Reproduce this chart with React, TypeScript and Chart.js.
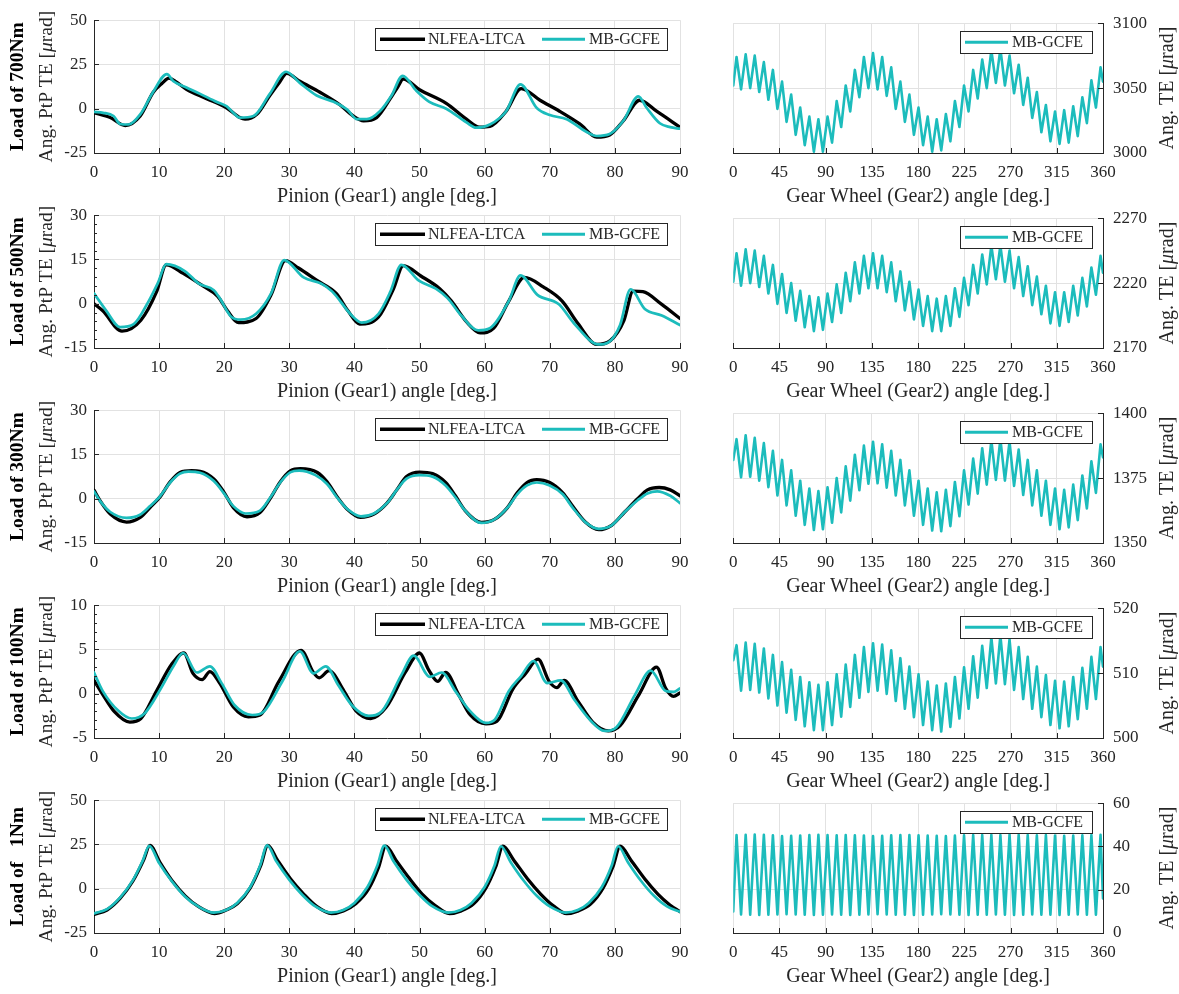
import React, { useEffect, useRef } from "react";
import { Chart, registerables } from "chart.js";

Chart.register(...registerables);

const SERIF = "'Liberation Serif', 'Times New Roman', Times, serif";
const INK = "#262626";
const GRID = "#e2e2e2";
const CYAN = "#1cbcbc";
const BLACK = "#000000";

Chart.defaults.font.family = SERIF;

// ---------- layout-free descriptive data ----------
const LOAD_LABELS = ["Load of 700Nm", "Load of 500Nm", "Load of 300Nm", "Load of 100Nm", "Load of   1Nm"];
const PINION_TITLE = "Pinion (Gear1) angle [deg.]";
const GEAR_TITLE = "Gear Wheel (Gear2) angle [deg.]";
const SERIES_NAMES = ["NLFEA-LTCA", "MB-GCFE"];

const LEFT_Y_MIN = [-25, -15, -15, -5, -25];
const LEFT_Y_MAX = [50, 30, 30, 10, 50];
const LEFT_Y_STEP = [25, 15, 15, 5, 25];
const LEFT_Y_MINOR = [0, 3, 0, 1, 0];
const RIGHT_Y_MIN = [3000, 2170, 1350, 500, 0];
const RIGHT_Y_MAX = [3100, 2270, 1400, 520, 60];
const RIGHT_Y_STEP = [50, 50, 25, 10, 20];
const PINION_RANGE = [0, 90, 10];
const GEAR_RANGE = [0, 360, 45];

// ---------- Pinion-angle series (left column) ----------
const NL700_X = [0, 2.5, 4.8, 7.1, 9.1, 10.5, 11.5, 12.5, 14.2, 17.3, 20.4, 22.4, 23.2, 25, 27, 28.5, 29.6, 31.6, 34.7, 37.8, 39.8, 41.4, 43.4, 45.5, 46.6, 47.5, 50, 54.1, 57.2, 59.2, 60.8, 63.3, 65.6, 68.5, 71.5, 74.6, 77.2, 79.2, 81.3, 83.8, 86.4, 90];
const NL700_Y = [-2.3, -5, -9.5, -4.1, 9.3, 14.5, 17.3, 15.5, 11, 5.7, 0.4, -5, -5.9, -3.2, 7.5, 15, 20, 15.5, 9.3, 2.1, -4.1, -6.8, -5, 5.7, 12, 16.8, 10.7, 3, -5.9, -10.4, -10, -1.4, 11.4, 4.8, -1.4, -8.6, -16, -14.8, -6.8, 4.8, -1.4, -10.4];
const MB700_X = [0, 1.4, 3, 4, 5.3, 7.1, 9.1, 11.2, 12.2, 14.2, 16.3, 18.8, 20.4, 21.4, 22.4, 24.5, 27, 29.5, 31.6, 34.2, 36.8, 38.9, 40.4, 41.9, 43.9, 45.7, 47.4, 49.5, 51.5, 54.1, 57.2, 58.7, 60.8, 63.3, 65.5, 68, 70, 72.6, 75.6, 77.2, 79.2, 81.3, 83.6, 84.9, 86.9, 88.5, 90];
const MB700_Y = [-1.8, -2.3, -4.1, -8.6, -8.9, -3.2, 9.6, 19.6, 15.5, 12, 8.4, 3.9, 1.3, -2.3, -5, -4.1, 8.4, 20.9, 14.6, 7.5, 3.9, -0.5, -5.9, -5.9, -1.4, 7.5, 18.6, 10.2, 3.9, 0, -7.7, -10.7, -8.9, -1.4, 13.8, 0.4, -3.6, -5.9, -13, -15.4, -14.3, -6.8, 7, 0.4, -8.2, -10.4, -11.3];

const NL500_X = [0, 1.35, 4.3, 7.2, 9.6, 11.1, 13.7, 16.6, 19, 20.5, 22.2, 24.9, 27.2, 29.4, 31.4, 34.3, 37.2, 39, 40.8, 43.7, 46, 47.5, 50.2, 53.1, 54.9, 57.2, 59.3, 61.4, 63.7, 66.1, 69, 71.9, 74.3, 77.2, 79.3, 81.4, 82.8, 84.3, 87.2, 90];
const NL500_Y = [0, -2.4, -9.3, -5.6, 4, 13.2, 10.3, 6.2, 2.5, -2.4, -6.4, -5, 3, 14.6, 12.1, 7.8, 3.5, -2.4, -6.9, -4.5, 5.1, 12.9, 9.4, 5.1, 0.9, -6.1, -9.9, -8.3, 0.9, 8.9, 5.7, 0.9, -6.6, -13.8, -12.5, -5.6, 4.3, 4.1, -0.2, -5];
const MB500_X = [0, 1.9, 4, 6.1, 8.4, 9.8, 11.1, 14, 16.1, 18.4, 19.3, 21.1, 22.5, 24.9, 27.2, 29.2, 32.2, 34.9, 36.6, 39.6, 41.1, 43.7, 45.5, 47.2, 49.9, 52.5, 54.3, 56.4, 59, 60.8, 63.7, 65.5, 68.1, 71.4, 73.7, 77.5, 79, 80.8, 82.4, 84.6, 87.2, 90];
const MB500_Y = [3.5, -2.4, -7.9, -6.9, 0.9, 7, 13.4, 11, 6.8, 4.6, 1.9, -4.5, -5.4, -3.4, 3.5, 14.8, 8.9, 6.8, 4.1, -4, -6.4, -3.4, 4, 13.2, 7.8, 5.1, 1.9, -4, -9, -8.3, 0.9, 9.6, 3, -0.2, -6.6, -13.8, -13.1, -7.2, 4.9, -1.8, -4, -7.2];

const NL300_X = [0, 1, 2.5, 5, 7.1, 8.6, 10.2, 11.7, 13.2, 15, 16.3, 18.4, 19.9, 21.4, 23.5, 25.5, 27.1, 28.6, 30.2, 31.7, 34.3, 35.8, 37.3, 38.9, 40.9, 43, 45, 46.5, 48, 50, 52, 54, 55.5, 57, 59.5, 61.5, 63.5, 65, 66.5, 68, 70, 72, 73.5, 75.5, 77.5, 79.5, 81.5, 83.5, 85, 86.8, 88.5, 90];
const NL300_Y = [2.9, -0.9, -5.2, -7.9, -6.3, -3, 0.8, 5.7, 8.9, 9.5, 9.3, 6.7, 2.4, -3, -6.1, -4.7, 0.2, 5.7, 9.5, 10.2, 8.9, 5.7, 0.8, -3.6, -6.3, -5.2, -1.5, 3, 7.5, 9, 8.5, 5.5, 1, -4, -8, -7, -3, 2, 5.5, 6.5, 5.5, 2, -2.5, -8, -10.5, -9, -4.5, 0, 3, 3.8, 3, 1];
const MB300_X = [0, 1, 2.5, 5, 7, 8.6, 10.2, 11.7, 13.2, 14.5, 16.3, 18.4, 19.9, 21.4, 23.3, 25.5, 27.1, 28.6, 30.2, 31.5, 34, 35.8, 37.3, 38.9, 41, 43, 45, 46.5, 48, 50, 52, 54, 55.5, 57, 59.5, 61.5, 63.5, 65, 66.5, 68, 70, 72, 73.5, 75.5, 77.5, 79.5, 81.5, 83.5, 85, 86.5, 88.5, 90];
const MB300_Y = [2.5, -1, -4.5, -6.5, -5.5, -2.5, 1, 5.5, 8.5, 9.2, 8.8, 6, 2, -2.5, -5, -4, 0.5, 5.5, 9, 9.5, 8, 5, 0.5, -3.5, -6, -5, -1.5, 3, 6.8, 8, 7.5, 4.5, 0.5, -4, -8.2, -7, -3, 1.5, 4.5, 5.5, 4.5, 1.5, -3, -8, -10.2, -9, -4.5, -0.5, 1.8, 2.5, 1, -1.5];

const NL100_X = [0, 1.35, 3.1, 5.5, 7.2, 9.6, 11.9, 13.8, 15.2, 16.6, 17.8, 19.3, 21.4, 23.7, 25.5, 28.4, 31.8, 33.7, 34.6, 36.1, 38.4, 40.2, 42.5, 44.9, 47.8, 50, 51.4, 52.8, 54, 56, 57.8, 60.2, 61.9, 64.3, 66.3, 68.2, 69.9, 71.1, 72.2, 74.3, 76.6, 79, 80.8, 83.7, 86.4, 87.8, 89, 90];
const NL100_Y = [1.5, -0.1, -2, -3.2, -2.8, 0.3, 3.3, 4.6, 2.3, 1.6, 2.5, 1.2, -1.5, -2.6, -2.4, 1.4, 4.9, 2.4, 1.8, 2.6, 0.3, -1.9, -2.8, -1.5, 2.4, 4.6, 2.7, 1.4, 2.4, -0.1, -2.4, -3.4, -3.1, 0.5, 2.3, 3.9, 1.4, 0.7, 1.5, -0.8, -3.2, -4.2, -3.6, -0.1, 3, 0.6, -0.3, 0.1];
const MB100_X = [0, 1.35, 3.7, 5.8, 7.8, 10.2, 12.2, 13.7, 15.8, 17.8, 19.6, 21.6, 24.3, 26.1, 29, 31.6, 33.7, 35.6, 37.5, 39.6, 42.2, 44.3, 47.2, 49.1, 51.6, 53.4, 55.5, 57.8, 60.2, 61.6, 63.7, 65.6, 67.5, 69.6, 71.7, 73.7, 76.1, 78.4, 80.2, 83.1, 85.5, 87.8, 89, 90];
const MB100_Y = [2.4, 0.3, -1.9, -2.8, -2.2, 0.5, 3.1, 4.6, 2.4, 3.1, 1.2, -1.3, -2.4, -2, 1.5, 4.8, 2.3, 3.1, 1, -1.3, -2.5, -1.9, 2.1, 4.3, 1.9, 2.4, 0.3, -2, -3.3, -2.9, 0.3, 2, 3.7, 1.2, 1.5, -0.6, -2.9, -4.2, -3.8, -0.1, 2.6, 0.3, 0.2, 0.6];

const NL1_X = [0, 2, 4, 6, 7.6, 8.6, 10.1, 12, 14, 16, 18.5, 20.3, 22, 24, 25.6, 26.7, 28.2, 30.2, 32.2, 34.2, 36.5, 38.3, 40.2, 42.2, 43.7, 44.8, 46.4, 48.4, 50.4, 52.4, 54.6, 56.4, 58.3, 60.2, 61.7, 62.8, 64.5, 66.6, 68.6, 70.5, 72.6, 74.4, 76.3, 78.2, 79.7, 80.8, 82.5, 84.6, 86.6, 88.4, 90];
const NL1_Y = [-14.5, -12, -5.5, 4.5, 16, 24.5, 15, 4.5, -4, -10, -14, -12, -8.5, 0.5, 13, 24.5, 16, 5.5, -3, -10, -14, -12.5, -8.5, 0, 12, 24, 16, 6, -3, -9.5, -14, -12.5, -8.5, 0.5, 12.5, 24, 16, 5.5, -3, -9.5, -14, -12.5, -8.5, 0.5, 12.5, 24, 16, 5.5, -3, -9, -13];
const MB1_X = [0, 2, 4, 6, 7.5, 8.5, 10, 12, 14, 16, 18.4, 20.3, 22, 24, 25.5, 26.6, 28, 30, 32, 34, 36.4, 38.3, 40, 42, 43.5, 44.6, 46, 48, 50, 52, 54.4, 56.3, 58, 60, 61.5, 62.5, 64, 66, 68, 70, 72.4, 74.3, 76, 78, 79.5, 80.5, 82, 84, 86, 88, 90];
const MB1_Y = [-14, -11.5, -5, 5, 16, 24.2, 14.5, 4, -4.5, -10, -13.5, -12, -8, 1, 13, 24.5, 15.5, 5, -3.5, -10, -13.5, -12, -8, 1, 13, 24.3, 15.5, 5, -3.5, -10, -13.5, -12, -8, 1, 13, 24, 15, 4.5, -4, -10, -13.5, -12, -8, 1, 13, 24, 15, 4.5, -4, -10, -13];

// ---------- Gear-angle series (right column): mesh peaks / valleys ----------
const GEAR_PEAK_X = [3.2, 12.1, 20.9, 29.8, 38.6, 47.5, 56.4, 65.2, 74.1, 82.9, 91.8, 100.7, 109.5, 118.4, 127.2, 136.1, 145.0, 153.8, 162.7, 171.5, 180.4, 189.3, 198.1, 207.0, 215.8, 224.7, 233.6, 242.4, 251.3, 260.1, 269.0, 277.9, 286.7, 295.6, 304.4, 313.3, 322.2, 331.0, 339.9, 348.7, 357.6];
const GEAR_VALLEY_X = [7.6, 16.5, 25.3, 34.2, 43.0, 51.9, 60.8, 69.6, 78.5, 87.3, 96.2, 105.1, 113.9, 122.8, 131.6, 140.5, 149.4, 158.2, 167.1, 175.9, 184.8, 193.7, 202.5, 211.4, 220.2, 229.1, 238.0, 246.8, 255.7, 264.5, 273.4, 282.3, 291.1, 300.0, 308.8, 317.7, 326.6, 335.4, 344.3, 353.1];

const G700_PEAK = [3074, 3076, 3075, 3070, 3064, 3055, 3045, 3035, 3028, 3026, 3028, 3040, 3052, 3064, 3074, 3077, 3074, 3066, 3055, 3045, 3035, 3028, 3026, 3030, 3040, 3052, 3064, 3072, 3079, 3080, 3075, 3068, 3058, 3047, 3037, 3032, 3033, 3036, 3043, 3056, 3066];
const G700_VALLEY = [3049, 3050, 3047, 3041, 3034, 3024, 3014, 3006, 3001, 3001, 3008, 3020, 3032, 3043, 3050, 3049, 3044, 3034, 3024, 3014, 3006, 3001, 3002, 3009, 3020, 3032, 3042, 3050, 3054, 3052, 3046, 3037, 3027, 3016, 3009, 3007, 3008, 3013, 3023, 3035];
const G700_ENDS = [3052, 3055];

const G500_PEAK = [2243, 2246, 2245, 2241, 2234, 2227, 2220, 2214, 2210, 2209, 2212, 2219, 2228, 2236, 2241, 2243, 2241, 2236, 2229, 2221, 2215, 2210, 2208, 2210, 2216, 2224, 2234, 2242, 2249, 2249, 2245, 2240, 2233, 2225, 2218, 2213, 2213, 2218, 2224, 2232, 2241];
const G500_VALLEY = [2218, 2220, 2217, 2212, 2204, 2197, 2191, 2186, 2183, 2184, 2190, 2197, 2206, 2212, 2216, 2216, 2213, 2206, 2199, 2192, 2187, 2183, 2183, 2187, 2194, 2203, 2212, 2219, 2223, 2221, 2216, 2210, 2203, 2196, 2189, 2187, 2190, 2195, 2202, 2211];
const G500_ENDS = [2221, 2228];

const G300_PEAK = [1390, 1391.5, 1390.5, 1388.5, 1385.5, 1382, 1378, 1374, 1371, 1370, 1371.5, 1375, 1379.5, 1384, 1387.5, 1389, 1388, 1385.5, 1382, 1378, 1374, 1371, 1369.5, 1370.5, 1373.5, 1378, 1382.5, 1386.5, 1389.5, 1390, 1389, 1386, 1382, 1378, 1374, 1371, 1370.5, 1372.5, 1376, 1381.5, 1388];
const G300_VALLEY = [1375.3, 1375.5, 1374, 1371.5, 1368.3, 1364.5, 1360.5, 1357, 1355, 1355.3, 1357.8, 1361.8, 1366.3, 1370.3, 1372.8, 1373, 1371.3, 1368.3, 1364.5, 1360.5, 1357, 1354.8, 1354.5, 1356.5, 1360.3, 1364.8, 1369, 1372.5, 1374.3, 1374, 1372, 1368.5, 1364.5, 1360.5, 1357, 1355.3, 1356, 1358.8, 1363.3, 1369.3];
const G300_ENDS = [1382, 1383];

const G100_PEAK = [514.3, 514.7, 514.5, 513.8, 512.8, 511.7, 510.5, 509.4, 508.6, 508.2, 508.6, 509.8, 511.3, 512.8, 514, 514.6, 514.4, 513.5, 512.3, 511, 509.8, 508.7, 508.1, 508.4, 509.4, 510.9, 512.6, 514.2, 515.5, 515.8, 515.2, 514, 512.5, 511, 509.7, 508.8, 508.7, 509.4, 510.8, 512.5, 514];
const G100_VALLEY = [507.3, 507.4, 507, 506.1, 505, 503.9, 502.8, 501.8, 501.2, 501.2, 502, 503.3, 504.8, 506.2, 507.1, 507.3, 506.8, 505.7, 504.5, 503.2, 502, 501.2, 501, 501.7, 503, 504.5, 506.2, 507.7, 508.4, 508.3, 507.4, 506, 504.5, 503.2, 502, 501.5, 501.8, 502.9, 504.5, 506];
const G100_ENDS = [512, 511];

const G1_PEAK = [45.3, 45.4, 45.5, 45.4, 45.2, 44.8, 44.9, 45.1, 45.3, 45.4, 45.3, 45.2, 45.3, 45.2, 45.1, 44.8, 44.9, 45.2, 45.3, 45.3, 45.2, 45.0, 44.9, 44.8, 45.0, 45.2, 45.3, 45.3, 45.4, 45.3, 45.5, 45.4, 45.3, 45.2, 45.3, 45.1, 44.9, 45.0, 45.2, 45.3, 45.4];
const G1_VALLEY = [8.6, 8.5, 8.4, 8.5, 8.6, 8.7, 8.6, 8.5, 8.4, 8.5, 8.6, 8.5, 8.4, 8.5, 8.6, 8.7, 8.6, 8.5, 8.5, 8.4, 8.5, 8.6, 8.7, 8.6, 8.5, 8.4, 8.5, 8.5, 8.6, 8.5, 8.4, 8.5, 8.6, 8.5, 8.5, 8.4, 8.5, 8.6, 8.5, 8.5];
const G1_ENDS = [10, 16];

// ---------- tables built from the named arrays ----------
const NL_X = [NL700_X, NL500_X, NL300_X, NL100_X, NL1_X];
const NL_Y = [NL700_Y, NL500_Y, NL300_Y, NL100_Y, NL1_Y];
const MB_X = [MB700_X, MB500_X, MB300_X, MB100_X, MB1_X];
const MB_Y = [MB700_Y, MB500_Y, MB300_Y, MB100_Y, MB1_Y];
const G_PEAK = [G700_PEAK, G500_PEAK, G300_PEAK, G100_PEAK, G1_PEAK];
const G_VALLEY = [G700_VALLEY, G500_VALLEY, G300_VALLEY, G100_VALLEY, G1_VALLEY];
const G_ENDS = [G700_ENDS, G500_ENDS, G300_ENDS, G100_ENDS, G1_ENDS];

// ---------- geometry ----------
const ROW_TOPS = [15, 210, 405, 600, 795];
const PAD_TOP = 12;
const CANVAS_H = 210;
const X_AXIS_H = 60;

function toPoints(xs: number[], ys: number[]) {
  return xs.map((x, i) => ({ x, y: ys[i] }));
}

function gearPoints(r: number) {
  const peaks = G_PEAK[r];
  const valleys = G_VALLEY[r];
  const ends = G_ENDS[r];
  const pts = [{ x: GEAR_RANGE[0], y: ends[0] }];
  for (let k = 0; k < GEAR_PEAK_X.length; k++) {
    pts.push({ x: GEAR_PEAK_X[k], y: peaks[k] });
    if (k < GEAR_VALLEY_X.length) pts.push({ x: GEAR_VALLEY_X[k], y: valleys[k] });
  }
  pts.push({ x: GEAR_RANGE[1], y: ends[1] });
  return pts;
}

function drawRotated(ctx: CanvasRenderingContext2D, cx: number, cy: number, segs: [string, string][], color: string) {
  ctx.save();
  ctx.translate(cx, cy);
  ctx.rotate(-Math.PI / 2);
  let total = 0;
  const widths: number[] = [];
  for (const [t, f] of segs) {
    ctx.font = f;
    const w = ctx.measureText(t).width;
    widths.push(w);
    total += w;
  }
  let x = -total / 2;
  ctx.textBaseline = "middle";
  ctx.textAlign = "left";
  ctx.fillStyle = color;
  segs.forEach(([t, f], i) => {
    ctx.font = f;
    ctx.fillText(t, x, 0);
    x += widths[i];
  });
  ctx.restore();
}

function framePlugin(o: { side: "left" | "right"; minor: number; row: number }) {
  return {
    id: "frame",
    afterDatasetsDraw(chart: any) {
      const { ctx, chartArea: a, scales } = chart;
      const xs = scales.x;
      const ys = scales.y;
      ctx.save();
      ctx.strokeStyle = INK;
      ctx.lineWidth = 1;
      ctx.beginPath();
      xs.ticks.forEach((t: any) => {
        const p = Math.round(xs.getPixelForValue(t.value)) + 0.5;
        ctx.moveTo(p, a.bottom);
        ctx.lineTo(p, a.bottom - 5);
      });
      const ax = o.side === "left" ? a.left : a.right;
      const dir = o.side === "left" ? 1 : -1;
      ys.ticks.forEach((t: any) => {
        const p = Math.round(ys.getPixelForValue(t.value)) + 0.5;
        ctx.moveTo(ax, p);
        ctx.lineTo(ax + dir * 5, p);
      });
      if (o.minor) {
        for (let v = ys.min; v <= ys.max + 1e-9; v += o.minor) {
          const p = Math.round(ys.getPixelForValue(v)) + 0.5;
          ctx.moveTo(ax, p);
          ctx.lineTo(ax + dir * 3, p);
        }
      }
      ctx.stroke();

      // legend box
      const boxL = a.right - (o.side === "left" ? 305 : 143);
      const boxR = a.right - (o.side === "left" ? 13 : 11);
      const boxT = a.top + 8;
      const boxB = a.top + 30;
      ctx.fillStyle = "#ffffff";
      ctx.fillRect(boxL, boxT, boxR - boxL, boxB - boxT);
      ctx.strokeStyle = INK;
      ctx.lineWidth = 1;
      ctx.strokeRect(Math.round(boxL) + 0.5, Math.round(boxT) + 0.5, Math.round(boxR - boxL), Math.round(boxB - boxT));
      const cy = a.top + 19;
      const entries: { c: string; w: number; x0: number; x1: number; tx: number; t: string }[] = [];
      if (o.side === "left") {
        entries.push({ c: BLACK, w: 3.6, x0: a.right - 300, x1: a.right - 255, tx: a.right - 252, t: SERIES_NAMES[0] });
      }
      entries.push({ c: CYAN, w: 3, x0: a.right - 138, x1: a.right - 95, tx: a.right - 91, t: SERIES_NAMES[1] });
      ctx.font = `16px ${SERIF}`;
      ctx.textBaseline = "middle";
      ctx.textAlign = "left";
      for (const e of entries) {
        ctx.strokeStyle = e.c;
        ctx.lineWidth = e.w;
        ctx.beginPath();
        ctx.moveTo(e.x0, cy);
        ctx.lineTo(e.x1, cy);
        ctx.stroke();
        ctx.fillStyle = INK;
        ctx.fillText(e.t, e.tx, cy + 1);
      }
      ctx.restore();
    },
    afterDraw(chart: any) {
      const { ctx, chartArea: a } = chart;
      const cy = (a.top + a.bottom) / 2;
      const reg = `19.5px ${SERIF}`;
      const ital = `italic 19.5px ${SERIF}`;
      if (o.side === "left") {
        drawRotated(ctx, 18, cy, [[LOAD_LABELS[o.row], `bold 19.5px ${SERIF}`]], BLACK);
        drawRotated(ctx, 47, cy, [["Ang. PtP TE [", reg], ["\u03bc", ital], ["rad]", reg]], INK);
      } else {
        drawRotated(ctx, a.right + 65, cy, [["Ang. TE [", `20px ${SERIF}`], ["\u03bc", `italic 20px ${SERIF}`], ["rad]", `20px ${SERIF}`]], INK);
      }
    },
  };
}

function axisX(range: number[], title: string) {
  return {
    type: "linear",
    min: range[0],
    max: range[1],
    ticks: {
      stepSize: range[2],
      autoSkip: false,
      maxRotation: 0,
      padding: 9,
      color: INK,
      font: { family: SERIF, size: 17 },
      callback: (v: any) => String(v),
    },
    grid: { color: GRID, lineWidth: 1, drawTicks: false },
    border: { display: true, color: INK, width: 1 },
    title: {
      display: true,
      text: title,
      color: INK,
      font: { family: SERIF, size: 20 },
      padding: { top: 0, bottom: 4 },
    },
    afterFit: (s: any) => {
      s.height = X_AXIS_H;
    },
  };
}

function axisY(min: number, max: number, step: number, position: "left" | "right", width: number, pad: number) {
  return {
    type: "linear",
    position,
    min,
    max,
    ticks: {
      stepSize: step,
      padding: pad,
      color: INK,
      font: { family: SERIF, size: 17 },
      callback: (v: any) => String(v),
    },
    grid: { color: GRID, lineWidth: 1, drawTicks: false },
    border: { display: true, color: INK, width: 1 },
    afterFit: (s: any) => {
      s.width = width;
    },
  };
}

function leftConfig(r: number): any {
  return {
    type: "line",
    data: {
      datasets: [
        {
          label: SERIES_NAMES[1],
          data: toPoints(MB_X[r], MB_Y[r]),
          borderColor: CYAN,
          borderWidth: 2.7,
          pointRadius: 0,
          cubicInterpolationMode: "monotone",
          borderJoinStyle: "round",
          borderCapStyle: "round",
          fill: false,
        },
        {
          label: SERIES_NAMES[0],
          data: toPoints(NL_X[r], NL_Y[r]),
          borderColor: BLACK,
          borderWidth: 3.3,
          pointRadius: 0,
          cubicInterpolationMode: "monotone",
          borderJoinStyle: "round",
          borderCapStyle: "round",
          fill: false,
        },
      ],
    },
    options: {
      animation: false,
      responsive: false,
      maintainAspectRatio: false,
      devicePixelRatio: 1,
      events: [],
      layout: { padding: { left: 0, right: 20, top: PAD_TOP, bottom: 0 } },
      plugins: { legend: { display: false }, tooltip: { enabled: false }, title: { display: false } },
      scales: {
        x: axisX(PINION_RANGE, PINION_TITLE),
        y: axisY(LEFT_Y_MIN[r], LEFT_Y_MAX[r], LEFT_Y_STEP[r], "left", 94, 7),
      },
    },
    plugins: [framePlugin({ side: "left", minor: LEFT_Y_MINOR[r], row: r })],
  };
}

function rightConfig(r: number): any {
  return {
    type: "line",
    data: {
      datasets: [
        {
          label: SERIES_NAMES[1],
          data: gearPoints(r),
          borderColor: CYAN,
          borderWidth: 2.6,
          pointRadius: 0,
          tension: 0,
          borderJoinStyle: "round",
          borderCapStyle: "round",
          fill: false,
        },
      ],
    },
    options: {
      animation: false,
      responsive: false,
      maintainAspectRatio: false,
      devicePixelRatio: 1,
      events: [],
      layout: { padding: { left: 11, right: 0, top: PAD_TOP, bottom: 0 } },
      plugins: { legend: { display: false }, tooltip: { enabled: false }, title: { display: false } },
      scales: {
        x: axisX(GEAR_RANGE, GEAR_TITLE),
        y: axisY(RIGHT_Y_MIN[r], RIGHT_Y_MAX[r], RIGHT_Y_STEP[r], "right", 76, 10),
      },
    },
    plugins: [framePlugin({ side: "right", minor: 0, row: r })],
  };
}

function ChartCanvas(props: { left: number; top: number; width: number; height: number; build: () => any }) {
  const ref = useRef<HTMLCanvasElement | null>(null);
  useEffect(() => {
    if (!ref.current) return;
    const chart = new Chart(ref.current, props.build());
    return () => chart.destroy();
  }, []);
  return (
    <canvas
      ref={ref}
      width={props.width}
      height={props.height}
      style={{ position: "absolute", left: props.left, top: props.top, width: props.width, height: props.height }}
    />
  );
}

export default function App() {
  return (
    <div style={{ position: "absolute", left: 0, top: 0, width: 1179, height: 994, background: "#ffffff", overflow: "hidden" }}>
      {ROW_TOPS.map((t, r) => (
        <React.Fragment key={r}>
          <ChartCanvas left={0} top={t - PAD_TOP} width={700} height={CANVAS_H} build={() => leftConfig(r)} />
          <ChartCanvas left={720} top={t - PAD_TOP} width={459} height={CANVAS_H} build={() => rightConfig(r)} />
        </React.Fragment>
      ))}
    </div>
  );
}
